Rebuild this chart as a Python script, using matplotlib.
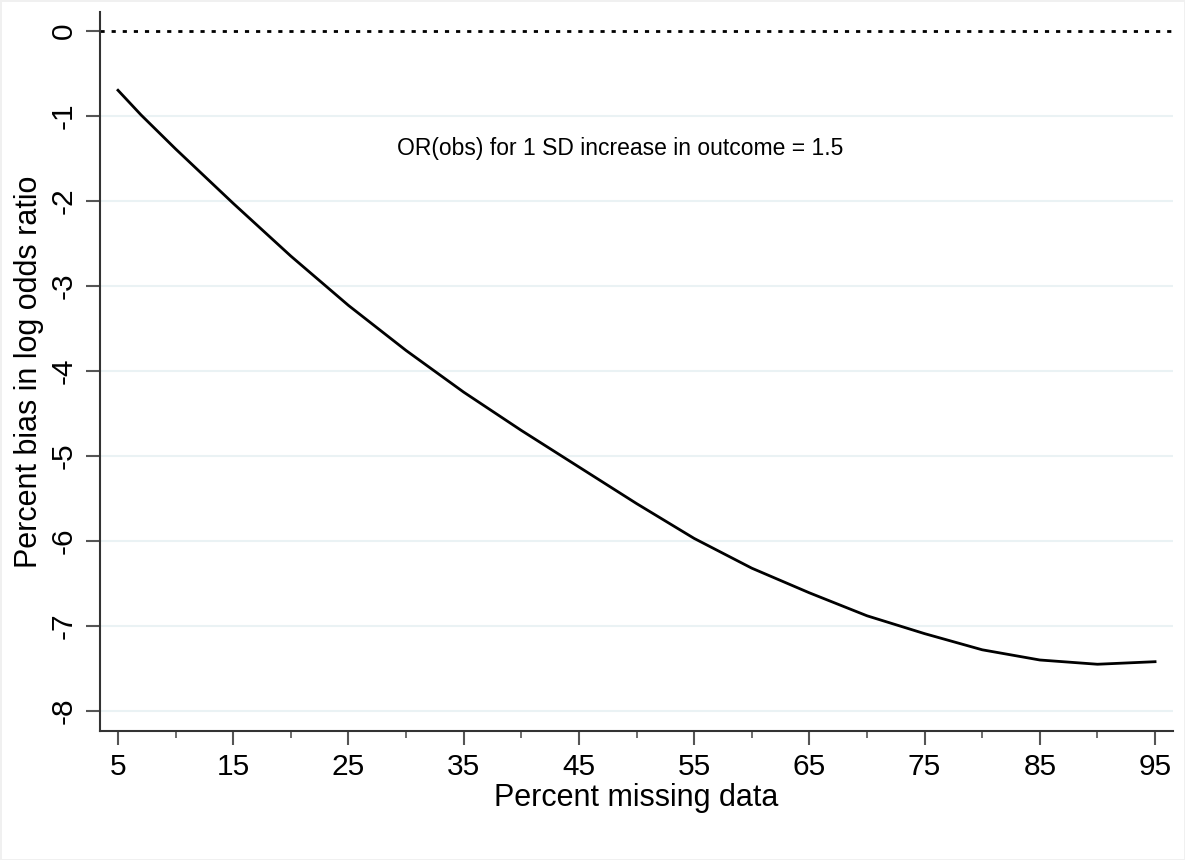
import matplotlib
matplotlib.use('Agg')
import matplotlib.pyplot as plt
from matplotlib.ticker import MultipleLocator

# Data
pct_missing = [5, 7, 10, 15, 20, 25, 30, 35, 40, 45, 50, 55, 60, 65, 70, 75, 80, 85, 90, 95]
pct_bias = [-0.70, -0.99, -1.39, -2.03, -2.65, -3.23, -3.76, -4.25, -4.70, -5.13,
            -5.56, -5.97, -6.32, -6.61, -6.88, -7.09, -7.28, -7.40, -7.45, -7.42]
x_ticks = [5, 15, 25, 35, 45, 55, 65, 75, 85, 95]
y_ticks = [0, -1, -2, -3, -4, -5, -6, -7, -8]
note = 'OR(obs) for 1 SD increase in outcome = 1.5'

plt.rcParams['font.family'] = ['Liberation Sans', 'DejaVu Sans']

fig = plt.figure(figsize=(11.85, 8.6), dpi=100)
fig.patch.set_edgecolor('#f0f0f0')
fig.patch.set_linewidth(2)
ax = fig.add_axes([0.0844, 0.15, 0.9055, 0.836])

# gridlines (light) and dotted reference line at 0
for yv in y_ticks[1:]:
    ax.axhline(yv, color='#eaf2f4', lw=1.5, zorder=0)
ax.axhline(0, color='black', ls=(0, (1.5, 2.5)), lw=2, zorder=1)

ax.plot(pct_missing, pct_bias, color='black', lw=2, zorder=2)

ax.set_xlim(3.44, 96.56)
ax.set_ylim(-8.235, 0.22)
ax.set_xticks(x_ticks)
ax.xaxis.set_minor_locator(MultipleLocator(10))
ax.set_yticks(y_ticks)
ax.set_yticklabels([str(v) for v in y_ticks], rotation=90, va='center')

for side in ['top', 'right']:
    ax.spines[side].set_visible(False)
for side in ['left', 'bottom']:
    ax.spines[side].set_color('#333333')
    ax.spines[side].set_linewidth(1.5)

ax.tick_params(axis='both', which='major', length=10, width=1.5, color='#555555',
               labelsize=21.5)
ax.tick_params(axis='y', which='major', pad=6)
ax.tick_params(axis='x', which='major', pad=6)
ax.tick_params(axis='x', which='minor', length=5, width=1.2, color='#555555')

ax.set_xlabel('Percent missing data', fontsize=22, labelpad=1)
ax.set_ylabel('Percent bias in log odds ratio', fontsize=22, labelpad=4)

ax.text(48.6, -1.38, note, fontsize=16.5, ha='center', va='center')

fig.savefig('out.png', dpi=100)
